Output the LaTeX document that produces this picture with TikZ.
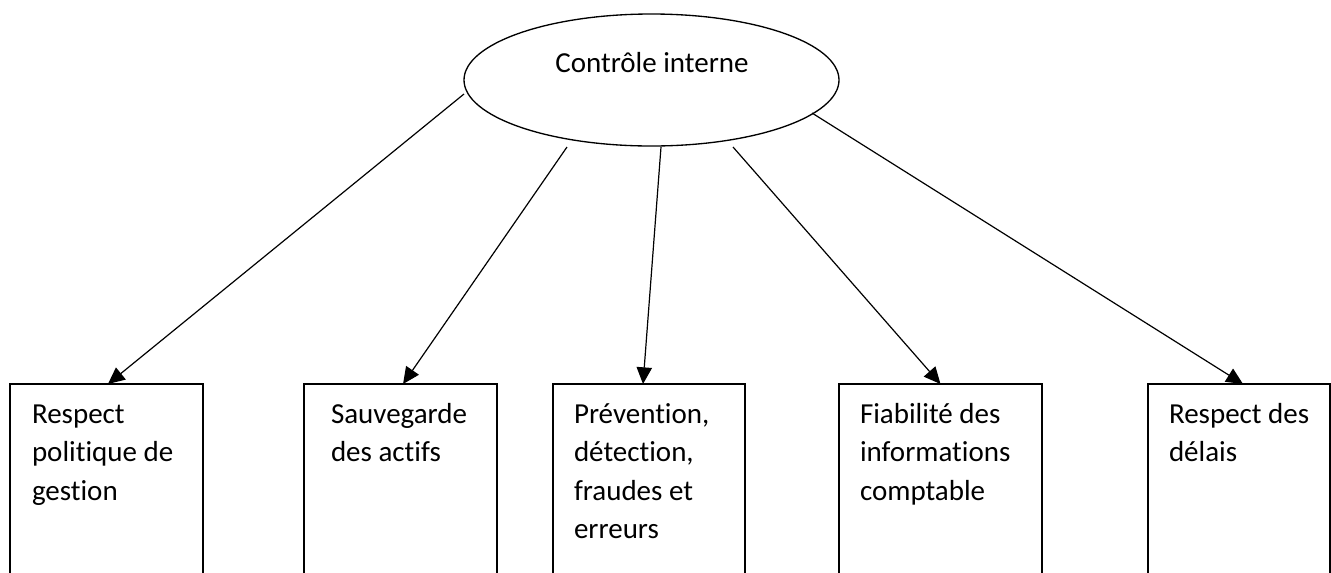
\documentclass[tikz,border=0pt]{standalone}
\usepackage{fontspec}
\setmainfont{Carlito}[Ligatures=NoCommon]
\usetikzlibrary{arrows.meta,shapes.geometric}
\newcommand\boxlines[1]{\parbox[t]{200pt}{\raggedright #1}}
\begin{document}
\begin{tikzpicture}[x=0.75pt,y=-0.75pt,
  lbl/.style={inner sep=0,outer sep=0,font=\fontsize{21.75pt}{28.9pt}\selectfont},
  boxnode/.style={draw,line width=1pt,rectangle,minimum width=#1,minimum height=162pt,inner sep=0,outer sep=0,anchor=north},
  ovalnode/.style={draw,ellipse,line width=1pt,minimum width=281.25pt,minimum height=99pt,inner sep=0,outer sep=0},
  conn/.style={line width=0.9pt,-{Triangle[length=12.5pt,width=11.5pt]}}
]
\useasboundingbox (0,0) rectangle (1331,572);
\clip (0,0) rectangle (1331,572);
\fill[white] (0,0) rectangle (1331,572);

% central ellipse
\node[ovalnode] (ci) at (651.5,80) {};
\node[lbl,anchor=base] (cit) at (652,72) {Contrôle interne};

% boxes
\node[boxnode=144.75pt] (b1) at (106.5,384) {};
\node[boxnode=144.75pt] (b2) at (400.5,384) {};
\node[boxnode=144pt]    (b3) at (649,384) {};
\node[boxnode=152.25pt] (b4) at (940.5,384) {};
\node[boxnode=136.5pt]  (b5) at (1239,384) {};

% box texts
\node[lbl,anchor=base west] (t1) at (32,423)   {\boxlines{Respect\\politique de\\gestion}};
\node[lbl,anchor=base west] (t2) at (331,423)  {\boxlines{Sauvegarde\\des actifs}};
\node[lbl,anchor=base west] (t3) at (574,423)  {\boxlines{Prévention,\\détection,\\fraudes et\\erreurs}};
\node[lbl,anchor=base west] (t4) at (860,423)  {\boxlines{Fiabilité des\\informations\\comptable}};
\node[lbl,anchor=base west] (t5) at (1169,423) {\boxlines{Respect des\\délais}};

% connector start points
\coordinate (s1) at (464,94);
\coordinate (s2) at (567,147);
\coordinate (s3) at (661,147);
\coordinate (s4) at (733,147);
\coordinate (s5) at (812,113);

\draw[conn] (s1) -- ([xshift=1.1pt]b1.north);
\draw[conn] (s2) -- ([xshift=1.9pt]b2.north);
\draw[conn] (s3) -- ([xshift=-4.5pt]b3.north);
\draw[conn] (s4) -- (b4.north);
\draw[conn] (s5) -- ([xshift=3pt]b5.north);
\end{tikzpicture}
\end{document}
